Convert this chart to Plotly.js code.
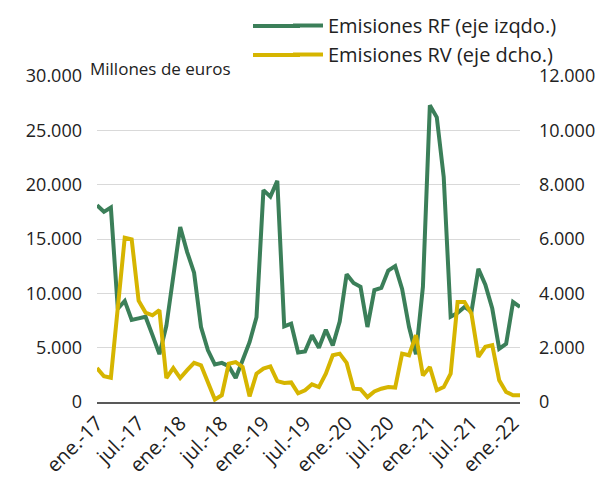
<!DOCTYPE html>
<html>
<head>
<meta charset="utf-8">
<script src="https://cdn.plot.ly/plotly-3.0.1.min.js"></script>
<style>
  html, body { margin: 0; padding: 0; background: #fff; }
  #chart { width: 614px; height: 477px; }
</style>
</head>
<body>
<div id="chart"></div>
<script>
// Months (Jan 2017 - Feb 2022)
const months = [
  "2017-01","2017-02","2017-03","2017-04","2017-05","2017-06","2017-07","2017-08","2017-09","2017-10","2017-11","2017-12",
  "2018-01","2018-02","2018-03","2018-04","2018-05","2018-06","2018-07","2018-08","2018-09","2018-10","2018-11","2018-12",
  "2019-01","2019-02","2019-03","2019-04","2019-05","2019-06","2019-07","2019-08","2019-09","2019-10","2019-11","2019-12",
  "2020-01","2020-02","2020-03","2020-04","2020-05","2020-06","2020-07","2020-08","2020-09","2020-10","2020-11","2020-12",
  "2021-01","2021-02","2021-03","2021-04","2021-05","2021-06","2021-07","2021-08","2021-09","2021-10","2021-11","2021-12",
  "2022-01","2022-02"
];

// Emisiones RF (eje izqdo.), millones de euros
const emisionesRF = [
  18100, 17500, 17900, 8600, 9300, 7550, 7700, 7850, 6150, 4400, 7000, 11450,
  16100, 13800, 11900, 6900, 4750, 3450, 3600, 3300, 2200, 3850, 5500, 7800,
  19500, 18900, 20350, 6950, 7200, 4550, 4650, 6150, 5000, 6650, 5200, 7400,
  11750, 10950, 10600, 6900, 10300, 10500, 12100, 12500, 10400, 6900, 4400, 10600,
  27300, 26200, 20700, 7850, 8200, 8750, 8300, 12250, 10800, 8600, 4900, 5350,
  9200, 8750
];

// Emisiones RV (eje dcho.), millones de euros
const emisionesRV = [
  1250, 950, 890, 3500, 6050, 5990, 3730, 3290, 3190, 3380, 880, 1250,
  880, 1170, 1440, 1350, 740, 90, 250, 1410, 1470, 1290, 210, 1040,
  1230, 1310, 770, 700, 720, 320, 430, 650, 550, 1040, 1720, 1780,
  1440, 490, 470, 180, 390, 490, 550, 530, 1780, 1720, 2460, 980,
  1290, 430, 550, 1040, 3680, 3680, 3250, 1660, 2030, 2090, 800, 370,
  250, 250
];

// Tick labels
const tickMonths = ["2017-01","2017-07","2018-01","2018-07","2019-01","2019-07","2020-01","2020-07","2021-01","2021-07","2022-01"];
const tickLabels = ["ene.-17","jul.-17","ene.-18","jul.-18","ene.-19","jul.-19","ene.-20","jul.-20","ene.-21","jul.-21","ene.-22"];

const FONT = "Open Sans, Noto Sans, DejaVu Sans, sans-serif";
const GREEN = "#3B7F59";
const YELLOW = "#D6B500";

const traces = [
  {
    x: months, y: emisionesRF, type: "scatter", mode: "lines",
    name: "Emisiones RF (eje izqdo.)",
    line: { color: GREEN, width: 4 },
    yaxis: "y"
  },
  {
    x: months, y: emisionesRV, type: "scatter", mode: "lines",
    name: "Emisiones RV (eje dcho.)",
    line: { color: YELLOW, width: 4 },
    yaxis: "y2"
  }
];

const layout = {
  width: 614, height: 477,
  margin: { l: 97, r: 94, t: 76, b: 75, pad: 0, autoexpand: false },
  paper_bgcolor: "#ffffff",
  plot_bgcolor: "#ffffff",
  separators: ",.",
  font: { family: FONT, size: 18, color: "#222222" },
  showlegend: true,
  legend: {
    x: 0.4515, y: 1.2147, xanchor: "left", yanchor: "top",
    orientation: "v",
    font: { family: FONT, size: 20, color: "#222222" },
    bgcolor: "rgba(0,0,0,0)",
    tracegroupgap: 0,
    itemwidth: 30
  },
  xaxis: {
    type: "category",
    range: [0, months.length - 1],
    tickmode: "array",
    tickvals: tickMonths,
    ticktext: tickLabels,
    tickangle: -45,
    tickfont: { family: FONT, size: 20, color: "#222222" },
    showgrid: false,
    showline: true,
    linecolor: "#595959",
    linewidth: 1.5,
    ticks: "",
    zeroline: false,
    automargin: false
  },
  yaxis: {
    range: [0, 30000],
    dtick: 5000,
    tickformat: ",",
    tickfont: { family: FONT, size: 18, color: "#222222" },
    showgrid: true,
    gridcolor: "#d9d9d9",
    gridwidth: 1,
    zeroline: false,
    showline: false,
    ticks: "",
    ticklabelstandoff: 14,
    automargin: false
  },
  yaxis2: {
    range: [0, 12000],
    dtick: 2000,
    tickformat: ",",
    overlaying: "y",
    side: "right",
    tickfont: { family: FONT, size: 18, color: "#222222" },
    showgrid: false,
    zeroline: false,
    showline: false,
    ticks: "",
    ticklabelstandoff: 18,
    automargin: false
  },
  annotations: [
    {
      text: "Millones de euros",
      xref: "paper", yref: "paper",
      x: -0.021, y: 1.0215, xanchor: "left", yanchor: "middle",
      showarrow: false,
      font: { family: FONT, size: 17, color: "#222222" }
    }
  ]
};

// Extend the legend line samples to the reference's longer length
const rowY = [1.1534, 1.0644];
const lx0 = (253 - 97) / 423, lx1 = (300 - 97) / 423;
layout.shapes = [
  { type: "line", xref: "paper", yref: "paper", x0: lx0, x1: lx1, y0: rowY[0], y1: rowY[0], line: { color: GREEN, width: 4 } },
  { type: "line", xref: "paper", yref: "paper", x0: lx0, x1: lx1, y0: rowY[1], y1: rowY[1], line: { color: YELLOW, width: 4 } }
];

Plotly.newPlot("chart", traces, layout, { staticPlot: true, displayModeBar: false });
</script>
</body>
</html>
